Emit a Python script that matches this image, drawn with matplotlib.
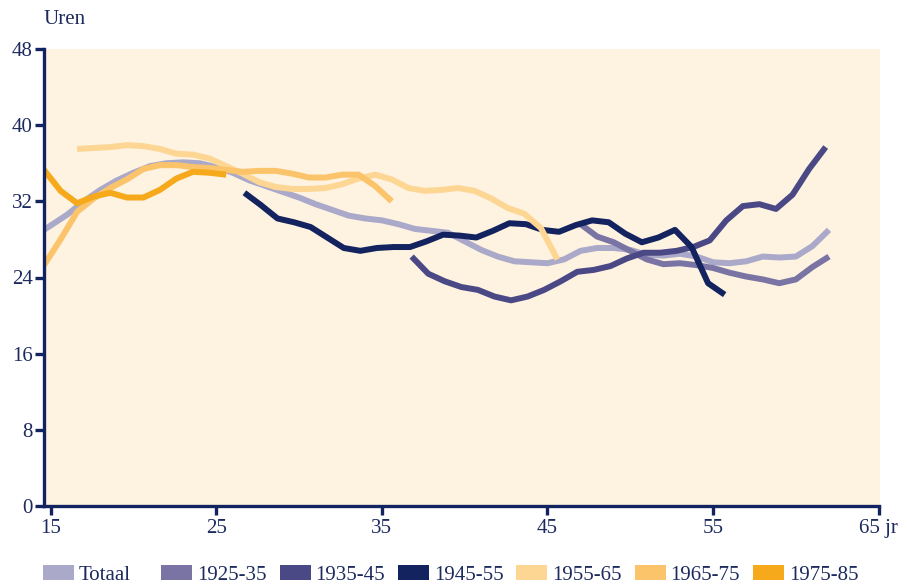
import numpy as np
import matplotlib
matplotlib.use("Agg")
import matplotlib.pyplot as plt
from matplotlib.patches import Rectangle

# ---------------- data ----------------
labels = ["Totaal", "1925-35", "1935-45", "1945-55", "1955-65", "1965-75", "1975-85"]
colors = ["#ABA9C9", "#7A74A5", "#4A4985", "#13235F", "#FDD693", "#FBC46A", "#F5A91B"]

ages_totaal = [14.6] + list(range(16, 63))
uren_totaal = [29.0, 30.6, 32.0, 33.2, 34.2, 35.0, 35.7, 36.0, 36.1, 36.0, 35.6, 35.0,
               34.2, 33.6, 33.0, 32.4, 31.7, 31.1, 30.5, 30.2, 30.0, 29.6, 29.1, 28.9,
               28.7, 27.8, 26.9, 26.2, 25.7, 25.6, 25.5, 25.9, 26.8, 27.1, 27.1, 26.9,
               26.4, 26.3, 26.5, 26.2, 25.6, 25.5, 25.7, 26.2, 26.1, 26.2, 27.3, 29.0]

ages_1925 = list(range(47, 63))
uren_1925 = [29.6, 28.3, 27.7, 26.8, 25.9, 25.4, 25.5, 25.3, 25.0, 24.5, 24.1, 23.8,
             23.4, 23.8, 25.1, 26.2]

ages_1935 = list(np.arange(36.8, 62.0, 1.0))
uren_1935 = [26.2, 24.4, 23.6, 23.0, 22.7, 22.0, 21.6, 22.0, 22.7, 23.6, 24.6, 24.8,
             25.2, 26.0, 26.6, 26.6, 26.8, 27.2, 27.9, 30.0, 31.5, 31.7, 31.2, 32.7,
             35.4, 37.7]

ages_1945 = list(np.arange(26.7, 56.0, 1.0))
uren_1945 = [32.9, 31.6, 30.2, 29.8, 29.3, 28.2, 27.1, 26.8, 27.1, 27.2, 27.2, 27.8,
             28.5, 28.4, 28.2, 28.9, 29.7, 29.6, 29.0, 28.8, 29.5, 30.0, 29.8, 28.6,
             27.7, 28.2, 29.0, 27.2, 23.4, 22.2]

ages_1955 = list(np.arange(16.6, 46.0, 1.0))
uren_1955 = [37.5, 37.6, 37.7, 37.9, 37.8, 37.5, 37.0, 36.9, 36.5, 35.7, 34.9, 34.0,
             33.5, 33.3, 33.3, 33.4, 33.8, 34.4, 34.8, 34.3, 33.4, 33.1, 33.2, 33.4,
             33.1, 32.3, 31.3, 30.7, 29.2, 25.9]

ages_1965 = list(np.arange(14.6, 36.0, 1.0))
uren_1965 = [25.3, 28.0, 30.9, 32.3, 33.4, 34.3, 35.4, 35.8, 35.8, 35.6, 35.5, 35.3,
             35.1, 35.2, 35.2, 34.9, 34.5, 34.5, 34.8, 34.8, 33.6, 32.0]

ages_1975 = list(np.arange(14.6, 26.0, 1.0))
uren_1975 = [35.3, 33.1, 31.8, 32.5, 32.9, 32.4, 32.4, 33.2, 34.4, 35.1, 35.0, 34.8]

series = [(ages_totaal, uren_totaal), (ages_1925, uren_1925), (ages_1935, uren_1935),
          (ages_1945, uren_1945), (ages_1955, uren_1955), (ages_1965, uren_1965),
          (ages_1975, uren_1975)]

xticks = [15, 25, 35, 45, 55, 65]
xticklabels = ["15", "25", "35", "45", "55", "65 jr"]
yticks = [0, 8, 16, 24, 32, 40, 48]

# ---------------- style ----------------
navy = "#13235F"
textc = "#1C2A5E"
bg = "#FEF2E1"
plt.rcParams['font.family'] = ['Liberation Serif', 'DejaVu Serif']

W, H = 908, 585
fig = plt.figure(figsize=(W / 100, H / 100), dpi=100)
ax = fig.add_axes([44 / W, (H - 506) / H, (880 - 44) / W, (506 - 49) / H])
ax.set_facecolor(bg)

for (x, y), c in zip(series, colors):
    ax.plot(x, y, color=c, lw=4.3, solid_capstyle='butt', solid_joinstyle='round')

ax.set_xlim(14.6, 65.08)
ax.set_ylim(0, 48)
ax.set_xticks(xticks)
ax.set_yticks(yticks)
ax.set_xticklabels(xticklabels)
ax.set_yticklabels([str(t) for t in yticks])

for s in ["top", "right"]:
    ax.spines[s].set_visible(False)
for s in ["left", "bottom"]:
    ax.spines[s].set_color(navy)
    ax.spines[s].set_linewidth(2.4)
ax.spines["bottom"].set_bounds(14.6, 65)

ax.tick_params(axis='both', colors=navy, width=2.4, length=6.5, direction='out',
               labelsize=15, labelcolor=textc)
ax.tick_params(axis='y', pad=1.5)
ax.tick_params(axis='x', pad=3)

fig.text(44 / W, 1 - 24 / H, "Uren", fontsize=15, color=textc, ha='left', va='baseline')

# legend (manual, evenly spaced)
for i, (lab, c) in enumerate(zip(labels, colors)):
    x0 = 43 + i * 118.3
    fig.add_artist(Rectangle((x0 / W, 1 - 580 / H), 31 / W, 15 / H,
                             transform=fig.transFigure, facecolor=c, edgecolor='none'))
    fig.text((x0 + 36) / W, 1 - 580 / H, lab, fontsize=15, color=textc,
             ha='left', va='baseline')

fig.savefig("out.png", dpi=100, facecolor='white')
